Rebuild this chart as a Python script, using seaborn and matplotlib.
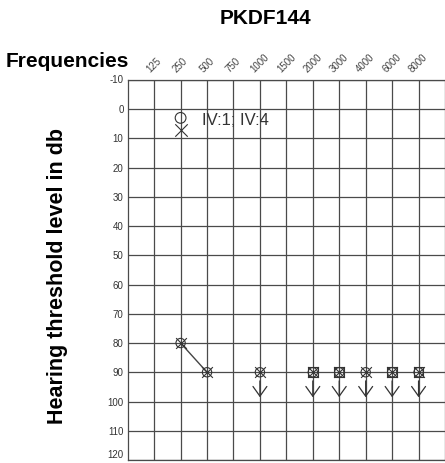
import matplotlib
matplotlib.use("Agg")
import matplotlib.pyplot as plt
import seaborn as sns
import pandas as pd
import numpy as np

sns.set_style("white")
plt.rcParams['font.family'] = ['Liberation Sans', 'DejaVu Sans']

freq_labels = ['125', '250', '500', '750', '1000', '1500', '2000', '3000', '4000', '6000', '8000']
db_ticks = [-10, 0, 10, 20, 30, 40, 50, 60, 70, 80, 90, 100, 110, 120]

# affected individuals (right ear O, left ear X) - thresholds in dB
aff_freqs = ['250', '500', '1000', '2000', '3000', '4000', '6000', '8000']
aff_right = [80, 90, 90, 90, 90, 90, 90, 90]
aff_left = [80, 90, 90, 90, 90, 90, 90, 90]
no_response = ['1000', '2000', '3000', '4000', '6000', '8000']
connected = ['250', '500']
masked_square = ['2000', '3000', '6000', '8000']

# normal-hearing individuals IV:1; IV:4
norm_freq = ['250']
norm_right = [3]
norm_left = [7]
norm_label = 'IV:1; IV:4'

xpos = {f: i for i, f in enumerate(freq_labels)}

fig = plt.figure(figsize=(4.45, 4.63), dpi=100)
ax = fig.add_axes([0.287, 0.0065, 0.713, 0.821])

gcol = '#4a4a4a'
for i in range(len(freq_labels)):
    ax.axvline(i, color=gcol, lw=0.9, zorder=1)
for d in db_ticks:
    ax.axhline(d, color=gcol, lw=0.9, zorder=1)

df = pd.DataFrame({'x': [xpos[f] for f in aff_freqs], 'right': aff_right, 'left': aff_left, 'f': aff_freqs})
con = df[df['f'].isin(connected)]
sns.lineplot(data=con, x='x', y='right', ax=ax, color='#444444', lw=1.0, zorder=2)

mcol = '#333333'
sns.scatterplot(data=df, x='x', y='right', ax=ax, marker='o', s=45, facecolor='none',
                edgecolor=mcol, linewidth=0.8, zorder=3)
sns.scatterplot(data=df, x='x', y='left', ax=ax, marker='x', s=60, color=mcol, linewidth=0.8, zorder=3)
sq = df[df['f'].isin(masked_square)]
sns.scatterplot(data=sq, x='x', y='right', ax=ax, marker='s', s=50, facecolor='none',
                edgecolor=mcol, linewidth=0.8, zorder=3)

for f in no_response:
    x = xpos[f]
    y = df.loc[df['f'] == f, 'right'].values[0]
    ax.annotate('', xy=(x, y + 9.5), xytext=(x, y + 2),
                arrowprops=dict(arrowstyle='->,head_length=0.7,head_width=0.5', color=mcol, lw=0.9))

ndf = pd.DataFrame({'x': [xpos[f] for f in norm_freq], 'r': norm_right, 'l': norm_left})
sns.scatterplot(data=ndf, x='x', y='r', ax=ax, marker='o', s=60, facecolor='none',
                edgecolor=mcol, linewidth=0.8, zorder=3)
sns.scatterplot(data=ndf, x='x', y='l', ax=ax, marker='x', s=80, color=mcol, linewidth=0.8, zorder=3)
ax.text(xpos[norm_freq[0]] + 0.8, norm_right[0] + 1, norm_label, fontsize=12, color='#333333',
        va='center', ha='left')

ax.set_xlim(-1, 11)
ax.set_ylim(120, -10)
ax.set_yticks(db_ticks)
ylabs = ax.set_yticklabels([str(d) for d in db_ticks], fontsize=7, color='#333333', va='center_baseline')
ylabs[-1].set_va('bottom')
ylabs[0].set_va('center')
ax.xaxis.tick_top()
ax.set_xticks(range(len(freq_labels)))
ax.set_xticklabels(freq_labels, rotation=45, fontsize=7, color='#444444', ha='center', va='bottom')
ax.tick_params(axis='both', length=0, pad=3)
ax.tick_params(axis='x', pad=4)
ax.set_xlabel('')
ax.set_ylabel('')
for s in ax.spines.values():
    s.set_color(gcol)
    s.set_linewidth(0.9)

fig.text(0.596, 0.961, 'PKDF144', fontsize=15, fontweight='bold', ha='center', va='center', color='black')
fig.text(0.012, 0.868, 'Frequencies', fontsize=15, fontweight='bold', ha='left', va='center', color='black')
fig.text(0.13, 0.403, 'Hearing threshold level in db', fontsize=15.5, fontweight='bold',
         rotation=90, ha='center', va='center', color='black')

fig.savefig('out.png', dpi=100)
